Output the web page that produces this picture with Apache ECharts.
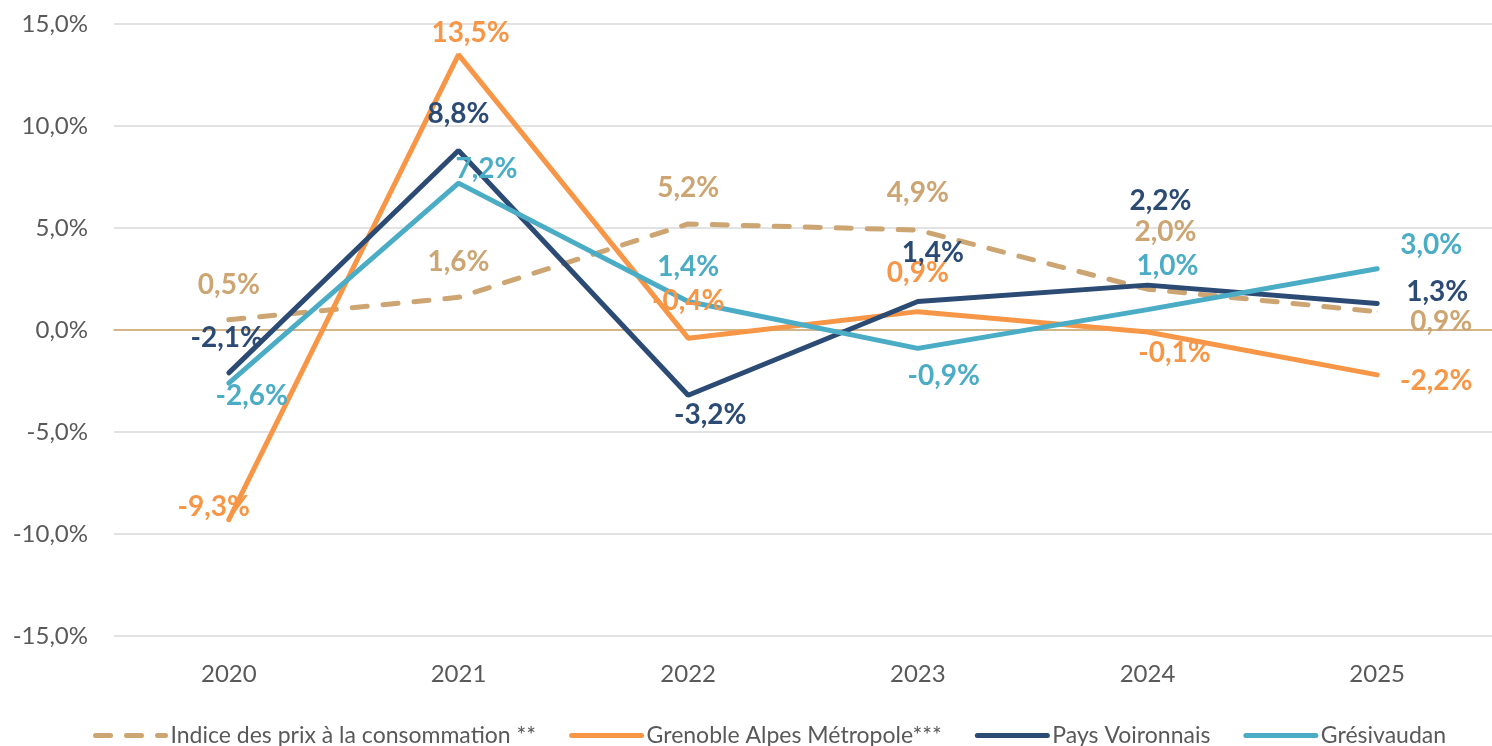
<!DOCTYPE html>
<html>
<head>
<meta charset="utf-8">
<script src="https://cdn.jsdelivr.net/npm/echarts@6/dist/echarts.min.js"></script>
<style>
  html, body { margin: 0; padding: 0; background: #fff; }
  #chart { width: 1492px; height: 746px; }
</style>
</head>
<body>
<div id="chart"></div>
<script>
// categories and values (%)
var years = ['2020', '2021', '2022', '2023', '2024', '2025'];
var seriesNames = ['Indice des prix à la consommation **', 'Grenoble Alpes Métropole***', 'Pays Voironnais', 'Grésivaudan'];
var ipc = [0.5, 1.6, 5.2, 4.9, 2.0, 0.9];
var grenoble = [-9.3, 13.5, -0.4, 0.9, -0.1, -2.2];
var voironnais = [-2.1, 8.8, -3.2, 1.4, 2.2, 1.3];
var gresivaudan = [-2.6, 7.2, 1.4, -0.9, 1.0, 3.0];

// label offsets (px) so the labels sit like in the original
var ipcOffsets = [[0, -35], [0, -35], [0, -36], [0, -37], [18, -57], [64, 10]];
var grenobleOffsets = [[-15, -13], [12, -22], [0, -37], [0, -39], [27, 21], [59, 6]];
var voironnaisOffsets = [[-2, -35], [0, -37], [22, 20], [15, -48], [13, -84], [60, -12]];
var gresivaudanOffsets = [[23, 13], [28, -14], [0, -34], [26, 28], [20, -44], [54, -24]];

var font = 'Lato, "Open Sans", sans-serif';
var fmt = function (v) { return v.toFixed(1).replace('.', ',') + '%'; };

function makeSeries(name, values, offsets, color, dashed) {
  return {
    name: name,
    type: 'line',
    data: values.map(function (v, i) {
      return { value: v, label: { offset: offsets[i] } };
    }),
    symbol: 'circle',
    symbolSize: 1,
    showSymbol: true,
    itemStyle: { color: color },
    lineStyle: {
      color: color,
      width: 5,
      type: dashed ? [15, 16] : 'solid',
      cap: 'round'
    },
    label: {
      show: true,
      position: 'inside',
      align: 'center',
      verticalAlign: 'middle',
      color: color,
      fontFamily: font,
      fontWeight: 'bold',
      fontSize: 28,
      formatter: function (p) { return fmt(p.value); }
    },
    emphasis: { disabled: true },
    animation: false
  };
}

var chart = echarts.init(document.getElementById('chart'));
chart.setOption({
  backgroundColor: '#ffffff',
  grid: { left: 114, right: -12, top: 24, bottom: 110 },
  legend: {
    top: 719,
    left: 88,
    itemWidth: 70,
    itemHeight: 18,
    itemGap: 33,
    itemStyle: { opacity: 0 },
    lineStyle: { width: 5, cap: 'round' },
    textStyle: { color: '#595959', fontSize: 23, fontFamily: font },
    data: seriesNames
  },
  xAxis: {
    type: 'category',
    data: years,
    boundaryGap: true,
    axisTick: { show: false },
    axisLine: { onZero: true, lineStyle: { color: '#CFA66E', width: 1.5 } },
    axisLabel: {
      color: '#595959',
      fontSize: 24,
      fontFamily: font,
      margin: 26
    }
  },
  yAxis: {
    type: 'value',
    min: -15,
    max: 15,
    interval: 5,
    axisLine: { show: false },
    axisTick: { show: false },
    splitLine: { lineStyle: { color: '#D9D9D9', width: 1.5 } },
    axisLabel: {
      color: '#595959',
      fontSize: 24,
      fontFamily: font,
      margin: 26,
      formatter: fmt
    }
  },
  series: [
    makeSeries(seriesNames[0], ipc, ipcOffsets, '#CCA572', true),
    makeSeries(seriesNames[1], grenoble, grenobleOffsets, '#F79646', false),
    makeSeries(seriesNames[2], voironnais, voironnaisOffsets, '#2B4A74', false),
    makeSeries(seriesNames[3], gresivaudan, gresivaudanOffsets, '#4BACC6', false)
  ]
});
</script>
</body>
</html>
